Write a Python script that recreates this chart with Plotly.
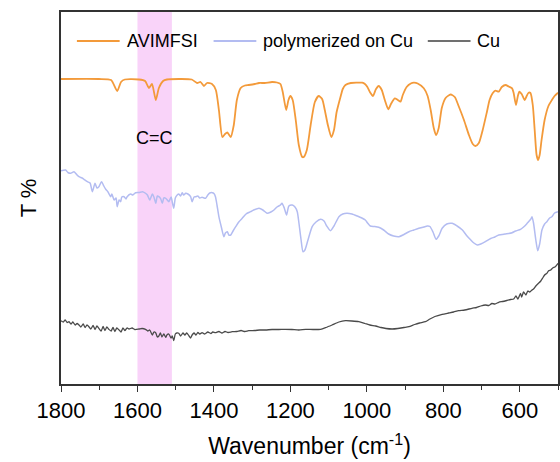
import plotly.graph_objects as go

# ---------------- data ----------------
avim_wn = [1800, 1701, 1669, 1653, 1643, 1633, 1596, 1580, 1570, 1562, 1552, 1544, 1533, 1523,
           1492, 1458, 1444, 1435, 1426, 1418, 1405, 1395, 1387, 1378, 1371, 1365, 1356, 1348,
           1340, 1330, 1319, 1309, 1293, 1282, 1267, 1248, 1235, 1226, 1220, 1211, 1205, 1200,
           1194, 1186, 1178, 1169, 1165, 1157, 1147, 1136, 1126, 1117, 1110, 1102, 1093, 1086,
           1079, 1069, 1063, 1056, 1042, 1026, 1012, 1005, 999, 992, 984, 976, 969, 961, 953,
           944, 937, 927, 919, 912, 906, 896, 885, 877, 867, 851, 841, 833, 825, 819, 812, 804,
           794, 781, 770, 760, 746, 733, 723, 716, 707, 697, 686, 679, 671, 664, 655, 647, 637,
           629, 620, 616, 610, 605, 601, 595, 587, 582, 577, 572, 566, 561, 556, 552, 548, 543,
           535, 525, 516, 509, 500]
avim_t = [305, 305, 304, 293, 302, 304.5, 304.5, 303, 296, 300, 284, 296, 303, 304.5,
          305, 304.5, 301, 302, 298, 301, 300, 294, 274, 247, 250, 251.5, 247, 259,
          284, 296, 298.5, 299, 300, 301, 301, 302, 301.5, 300, 292, 274, 284, 288,
          284, 264, 239, 227, 227, 234, 259, 282, 288, 285, 274, 259, 247, 254,
          272, 287, 295, 299, 301, 301.3, 301.3, 300, 297.3, 292, 288, 295, 298, 294, 284,
          274.7, 280, 285.7, 284, 282.3, 289, 297, 300.5, 301.3, 300.5, 295.7, 288, 274, 256, 249, 256, 276,
          286, 289.5, 287, 278, 264, 249, 240, 238, 241, 254, 272, 284, 290.7, 293.3, 292.3, 297, 299,
          297.5, 295.7, 291, 279, 288, 292.3, 290, 284, 288, 291.3, 291, 279, 254, 229, 224, 229, 244,
          264, 278, 284, 288, 291.3]

poly_wn = [1800, 1788, 1782, 1775, 1766, 1758, 1753, 1745, 1740, 1731, 1724, 1718, 1711, 1706,
           1701, 1694, 1688, 1683, 1677, 1670, 1667, 1661, 1656, 1653, 1648, 1644, 1641, 1635,
           1630, 1627, 1618, 1612, 1605, 1596, 1587, 1580, 1574, 1568, 1561, 1557, 1552, 1548,
           1544, 1539, 1535, 1531, 1526, 1522, 1518, 1512, 1509, 1505, 1501, 1496, 1492, 1487,
           1483, 1479, 1474, 1468, 1461, 1457, 1452, 1448, 1442, 1437, 1431, 1422, 1416, 1411,
           1404, 1400, 1396, 1392, 1387, 1380, 1374, 1370, 1365, 1361, 1356, 1350, 1343, 1335,
           1326, 1316, 1304, 1296, 1282, 1272, 1261, 1251, 1243, 1235, 1226, 1222, 1216, 1210,
           1204, 1195, 1188, 1182, 1178, 1172, 1167, 1162, 1154, 1143, 1133, 1121, 1112, 1105,
           1095, 1086, 1073, 1063, 1052, 1039, 1025, 1013, 1004, 998, 991, 980, 969, 956, 943,
           930, 916, 903, 890, 877, 864, 851, 842, 835, 827, 819, 812, 803, 791, 777, 764, 750,
           738, 728, 720, 711, 702, 690, 676, 665, 655, 639, 629, 620, 611, 598, 590, 582, 577,
           571, 568, 564, 558, 553, 548, 542, 535, 529, 522, 516, 509, 500]
poly_t = [213.3, 214, 211.5, 210.7, 212.3, 209, 207.3, 206, 204.7, 202.3, 201, 192.3, 200.7, 196,
          197.3, 202.3, 198, 194.7, 192, 187.3, 190, 184, 186, 177.3, 184, 182.3, 187, 187.3,
          185, 187.3, 190, 189, 191.3, 191.5, 192.3, 191, 189, 184, 190, 187, 180.7, 188,
          187.3, 185, 180.7, 186, 185.7, 184, 182.3, 187, 182, 175.7, 186, 189, 190, 188,
          191.3, 189, 190.7, 190, 187.3, 182.3, 187, 187.3, 188, 186, 186.7, 185.7, 189, 191,
          191.3, 190.5, 187.3, 179, 167.3, 156, 147.3, 151, 152.3, 149, 149, 153, 157.3, 162,
          165.7, 170, 172.3, 174, 175.7, 174, 170.7, 172, 174, 177, 179, 180.7, 176, 169,
          178, 179, 177, 172.3, 162, 144, 132.3, 134, 144, 157.3, 162, 164.7, 163, 158,
          153.3, 158, 167.3, 170, 170.7, 170, 168, 166, 164, 161, 158, 157.5, 156.7, 154, 150,
          148, 147.3, 149.5, 152.3, 154, 155.7, 157, 158, 157.5, 152, 144.7, 148, 155.7, 160, 160.7, 158, 154,
          148, 144, 141, 139, 140, 142.3, 145.5, 147, 149, 150, 150.5, 151.3, 153, 154.7, 157, 160, 162.3,
          165, 167.3, 161, 144, 133.3, 140, 154, 160, 162.3, 166, 167.3, 171, 172.3]

cu_wn = [1800, 1794, 1789, 1784, 1779, 1774, 1769, 1763, 1758, 1753, 1748, 1742, 1737, 1732,
         1727, 1722, 1716, 1711, 1706, 1701, 1695, 1690, 1685, 1680, 1675, 1669, 1664, 1659,
         1654, 1648, 1643, 1638, 1633, 1627, 1622, 1614, 1607, 1596, 1588, 1579, 1573, 1568,
         1561, 1557, 1552, 1548, 1544, 1540, 1536, 1531, 1526, 1523, 1518, 1512, 1509, 1505,
         1501, 1497, 1492, 1487, 1481, 1476, 1471, 1465, 1461, 1457, 1452, 1447, 1442, 1437,
         1431, 1424, 1416, 1408, 1403, 1396, 1387, 1379, 1371, 1363, 1352, 1340, 1329, 1319,
         1309, 1293, 1280, 1265, 1248, 1230, 1213, 1196, 1178, 1160, 1141, 1121, 1107, 1091,
         1073, 1056, 1039, 1021, 1005, 992, 977, 963, 950, 934, 919, 903, 890, 875, 862, 847,
         835, 822, 803, 786, 773, 760, 744, 725, 713, 702, 690, 681, 673, 665, 655, 645, 634,
         624, 616, 610, 605, 598, 595, 590, 584, 579, 574, 568, 564, 558, 551, 545, 540, 535,
         529, 525, 519, 514, 507, 500]
cu_t = [63.3, 62, 64, 61.5, 62.3, 60, 62, 59, 60.5, 59, 57, 60, 56.5, 59,
        57.3, 55, 58.5, 54.5, 58, 55.7, 53, 57.5, 53.5, 57, 54.7, 53, 56.5, 52.5,
        56, 54, 52, 56, 53.5, 56, 55, 56, 54.5, 55, 55.5, 54.7, 53, 54,
        49, 52, 51, 47, 48, 51, 47, 50, 46.7, 49, 50, 46, 48, 43.3,
        50, 51, 50.7, 48, 51, 49, 51, 48, 46, 49, 51, 49, 51.5, 50,
        51.3, 50, 52, 50.5, 52, 51.3, 52.5, 51, 52.5, 51.5, 52.3, 52.5, 53.5, 52.5,
        53.3, 53.5, 54, 54, 54.5, 54.5, 54.7, 54.5, 54, 54.7, 54.5, 54.7, 56.5, 59,
        62, 63.3, 63, 62.3, 60.5, 59, 58, 56.5, 55.5, 55, 55.5, 56.5, 57.3, 59.5, 61, 62.3,
        65, 67.5, 69.7, 71, 72, 73.3, 74, 75.7, 76.5, 78, 79, 78.5, 80.5, 80, 81.7, 82.5, 83.5,
        84.5, 85, 88, 85, 90.7, 87, 92, 89, 93, 92, 94, 95, 98, 100.7, 103, 106, 109,
        110.7, 113, 114, 116, 117.3, 120.7]

series_names = ["AVIMFSI", "polymerized on Cu", "Cu"]
series_colors = ["#F39A3A", "#B3BCF1", "#4A4A4A"]
legend_colors = ["#F39A3A", "#B3BCF1", "#707070"]
band_range = [1600, 1510]
band_label = "C=C"
x_ticks = [1800, 1600, 1400, 1200, 1000, 800, 600]

FONT = "Arial, 'Liberation Sans', sans-serif"

fig = go.Figure()
for wn, t, name, col, w in [(avim_wn, avim_t, series_names[0], series_colors[0], 1.8),
                            (poly_wn, poly_t, series_names[1], series_colors[1], 1.5),
                            (cu_wn, cu_t, series_names[2], series_colors[2], 1.3)]:
    fig.add_trace(go.Scatter(x=wn, y=t, mode="lines", name=name,
                             line=dict(color=col, width=w, shape="spline", smoothing=0.6),
                             showlegend=False))

# highlighted band
fig.add_shape(type="rect", xref="x", yref="paper", x0=band_range[0], x1=band_range[1],
              y0=0, y1=1, fillcolor="#F9D3F9", line_width=0, layer="below")
fig.add_annotation(x=sum(band_range) / 2, y=246, text=band_label, showarrow=False,
                   font=dict(size=18, color="black", family=FONT))

# manual legend (line + text) along the top of the plot
leg_items = [(0.032, series_names[0]), (0.307, series_names[1]), (0.738, series_names[2])]
for (xp, name), col in zip(leg_items, legend_colors):
    fig.add_shape(type="line", xref="paper", yref="paper", x0=xp, x1=xp + 0.086,
                  y0=0.922, y1=0.922, line=dict(color=col, width=1.8))
    fig.add_annotation(xref="paper", yref="paper", x=xp + 0.096, y=0.922, text=name,
                       showarrow=False, xanchor="left", yanchor="middle",
                       font=dict(size=18, color="black", family=FONT))

fig.update_layout(
    width=560, height=462,
    margin=dict(l=61, r=0, t=12, b=78),
    paper_bgcolor="white", plot_bgcolor="white",
    font=dict(family=FONT, color="black"),
    showlegend=False,
    xaxis=dict(range=[1800, 500], tickvals=x_ticks, ticks="outside", ticklen=6,
               tickwidth=1.3, tickcolor="#333", showline=True, linecolor="#333",
               linewidth=1.5, mirror=True, showgrid=False, zeroline=False,
               tickfont=dict(size=22, color="black"),
               minor=dict(dtick=100, tick0=1800, ticks="outside", ticklen=4, tickcolor="#333",
                          showgrid=False),
               title=dict(text="Wavenumber (cm<sup>-1</sup>)", font=dict(size=23),
                          standoff=16)),
    yaxis=dict(range=[0, 372], showticklabels=False, ticks="", showline=True,
               linecolor="#333", linewidth=1.5, mirror=True, showgrid=False,
               zeroline=False, title=dict(text="T %", font=dict(size=22), standoff=17)),
)

fig.write_html("out.html")
